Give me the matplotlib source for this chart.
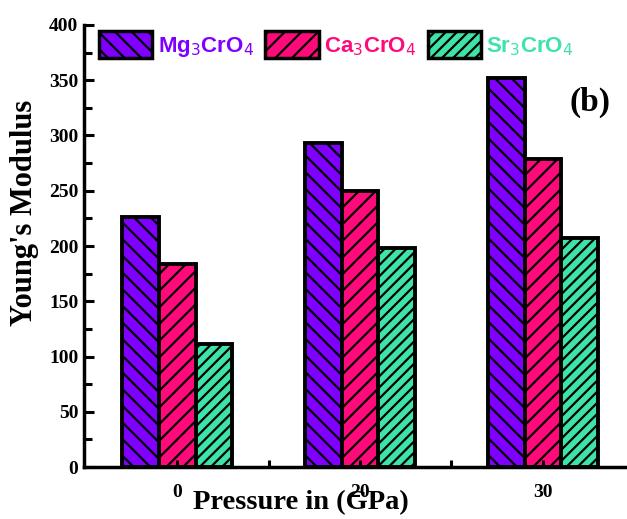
import matplotlib
matplotlib.use("Agg")
import matplotlib.pyplot as plt
import numpy as np
from matplotlib.ticker import MultipleLocator

categories = ["0", "20", "30"]
series_names = [r"Mg$_3$CrO$_4$", r"Ca$_3$CrO$_4$", r"Sr$_3$CrO$_4$"]
mg_values = [226, 293, 352]
ca_values = [184, 250, 279]
sr_values = [111, 198, 207]
colors = ["#8000ff", "#ff0a7a", "#3ee3a8"]
hatches = ["\\\\", "//", "///"]

plt.rcParams['hatch.linewidth'] = 1.6

fig = plt.figure(figsize=(6.27, 5.19), dpi=100)
ax = fig.add_axes([0.134, 0.100, 0.866, 0.852])

x = np.arange(len(categories))
w = 0.2
for i, vals in enumerate([mg_values, ca_values, sr_values]):
    ax.bar(x + (i - 1) * w, vals, w, color=colors[i], edgecolor="black",
           linewidth=2.8, hatch=hatches[i], label=series_names[i])

ax.set_xlim(-0.51, 2.46)
ax.set_ylim(0, 400)
ax.set_xticks(x)
ax.set_xticklabels(categories)
ax.set_xticks([0.5, 1.5], minor=True)
ax.yaxis.set_major_locator(MultipleLocator(50))
ax.yaxis.set_minor_locator(MultipleLocator(25))

for s in ["top", "right"]:
    ax.spines[s].set_visible(False)
for s in ["left", "bottom"]:
    ax.spines[s].set_linewidth(2.5)

ax.tick_params(axis="both", which="both", direction="in", width=2.2)
ax.tick_params(axis="y", which="major", length=7, pad=4)
ax.tick_params(axis="y", which="minor", length=6)
ax.tick_params(axis="x", which="both", length=5, pad=12)

for lab in ax.get_xticklabels() + ax.get_yticklabels():
    lab.set_family("Liberation Serif")
    lab.set_fontweight("bold")
    lab.set_fontsize(14)

ax.set_ylabel("Young's Modulus", family="Liberation Serif", fontweight="bold",
              fontsize=22)
ax.yaxis.set_label_coords(-0.083, 0.575)
ax.set_xlabel("Pressure in (GPa)", family="Liberation Serif", fontweight="bold",
              fontsize=20.5)
ax.xaxis.set_label_coords(0.40, -0.052)

leg = ax.legend(loc="upper left", bbox_to_anchor=(-0.009, 1.031), ncol=3, frameon=False,
                handlelength=2.4, handleheight=1.5, columnspacing=0.5,
                handletextpad=0.25,
                prop={"family": "Liberation Sans", "weight": "bold", "size": 16})
for t, c in zip(leg.get_texts(), colors):
    t.set_color(c)
for p in leg.get_patches():
    p.set_linewidth(2.5)

ax.text(0.932, 0.824, "(b)", transform=ax.transAxes, family="Liberation Serif",
        fontweight="bold", fontsize=24, ha="center", va="center")

fig.savefig("out.png", dpi=100)
